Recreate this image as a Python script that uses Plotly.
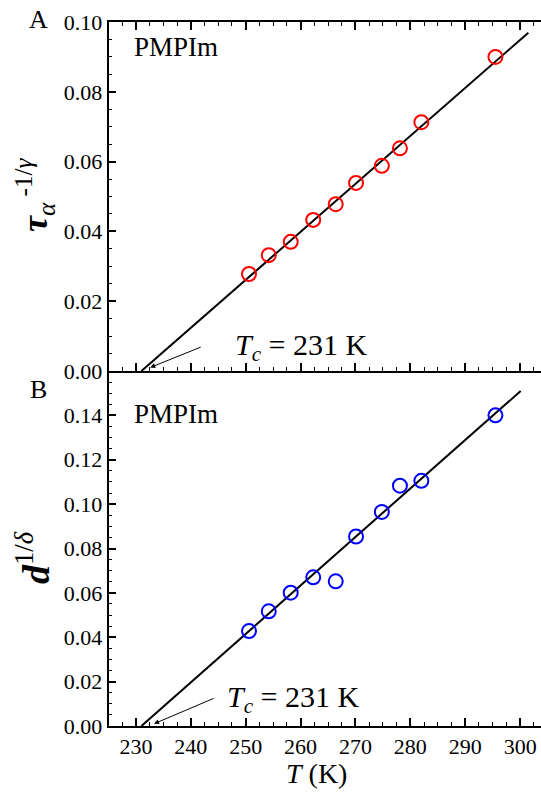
import plotly.graph_objects as go

# ---- data ----
T_A = [250.6, 254.2, 258.2, 262.3, 266.4, 270.1, 274.8, 278.1, 282.0, 295.5]
tau_A = [0.0278, 0.0332, 0.0370, 0.0433, 0.0478, 0.0539, 0.0588, 0.0638, 0.0713, 0.0900]

T_B = [250.6, 254.2, 258.2, 262.3, 266.4, 270.1, 274.8, 278.1, 282.0, 295.5]
d_B = [0.0428, 0.0517, 0.0601, 0.0670, 0.0652, 0.0854, 0.0965, 0.1083, 0.1105, 0.1400]

Tc = 231.0
slope_A = 0.001375
slope_B = 0.002185
T_end_A = 301.5
T_end_B = 300.1

x_ticks = [230, 240, 250, 260, 270, 280, 290, 300]
yA_ticks = [0.00, 0.02, 0.04, 0.06, 0.08, 0.10]
yB_ticks = [0.00, 0.02, 0.04, 0.06, 0.08, 0.10, 0.12, 0.14]

FONT = "Liberation Serif, Times New Roman, serif"
W, H = 541, 795

fig = go.Figure()

fig.add_trace(go.Scatter(x=[Tc, T_end_A], y=[0, slope_A * (T_end_A - Tc)], mode="lines",
                         line=dict(color="black", width=2), xaxis="x", yaxis="y", showlegend=False))
fig.add_trace(go.Scatter(x=T_A, y=tau_A, mode="markers",
                         marker=dict(symbol="circle-open", size=14, color="rgb(255,0,0)",
                                     line=dict(width=2, color="rgb(255,0,0)")),
                         xaxis="x", yaxis="y", showlegend=False))
fig.add_trace(go.Scatter(x=[Tc, T_end_B], y=[0, slope_B * (T_end_B - Tc)], mode="lines",
                         line=dict(color="black", width=2), xaxis="x2", yaxis="y2", showlegend=False))
fig.add_trace(go.Scatter(x=T_B, y=d_B, mode="markers",
                         marker=dict(symbol="circle-open", size=14, color="rgb(0,0,255)",
                                     line=dict(width=2, color="rgb(0,0,255)")),
                         xaxis="x2", yaxis="y2", showlegend=False))

def py(p):
    return (H - p) / H

xdom = [108.5 / W, 1.0]
xr = [225, 303.8]
tickfont = dict(family=FONT, size=22, color="black")

common_x = dict(range=xr, domain=xdom, showgrid=False, zeroline=False, showline=True,
                linecolor="black", linewidth=1.5, ticks="inside", ticklen=8, tickwidth=1.5,
                tickcolor="black", tickvals=x_ticks, automargin=False,
                minor=dict(dtick=2.5, tick0=225, ticks="inside", ticklen=4, tickwidth=1.2, tickcolor="black"),
                tickfont=tickfont)
common_y = dict(showgrid=False, zeroline=False, showline=True, linecolor="black", linewidth=1.5,
                ticks="inside", ticklen=8, tickwidth=1.5, tickcolor="black", automargin=False,
                tickformat=".2f", tickfont=tickfont, mirror=False,
                minor=dict(dtick=0.005, tick0=0, ticks="inside", ticklen=4, tickwidth=1.2, tickcolor="black"))

fig.update_layout(
    width=W, height=H, margin=dict(l=0, r=0, t=0, b=0, autoexpand=False),
    paper_bgcolor="white", plot_bgcolor="white",
    xaxis=dict(**common_x, anchor="y", showticklabels=False, mirror="ticks"),
    yaxis=dict(**common_y, range=[0, 0.10], domain=[py(371), py(22)], anchor="x", tickvals=yA_ticks),
    xaxis2=dict(**common_x, anchor="y2", showticklabels=True),
    yaxis2=dict(**common_y, range=[0, 0.16], domain=[py(726), py(371)], anchor="x2", tickvals=yB_ticks),
)

ann = []
def txt(x, y, text, size, angle=0, xanchor="center", yanchor="middle"):
    ann.append(dict(x=x / W, y=py(y), xref="paper", yref="paper", text=text, showarrow=False,
                    font=dict(family=FONT, size=size, color="black"), textangle=angle,
                    xanchor=xanchor, yanchor=yanchor))

txt(38, 20, "A", 26)
txt(38, 389, "B", 26)
txt(132, 47, "PMPIm", 27, xanchor="left")
txt(132, 414, "PMPIm", 27, xanchor="left")
txt(35, 195, "<b><i>τ</i></b><sub><i>α</i></sub><sup> -1/<i>γ</i></sup>", 36, angle=-90)
txt(33, 558, "<b><i>d</i></b><sup>1/<i>δ</i></sup>", 38, angle=-90)
txt(316, 773, "<i>T</i> (K)", 28)
txt(233, 347, "<i>T</i><sub><i>c</i></sub> = 231 K", 30, xanchor="left")
txt(225, 699, "<i>T</i><sub><i>c</i></sub> = 231 K", 30, xanchor="left")

# arrows
ann.append(dict(x=232.6, y=0.0010, xref="x", yref="y", ax=52, ay=-21, axref="pixel", ayref="pixel",
                text="", showarrow=True, arrowhead=2, arrowsize=1, arrowwidth=1, arrowcolor="black"))
ann.append(dict(x=233.3, y=0.0010, xref="x2", yref="y2", ax=61, ay=-26, axref="pixel", ayref="pixel",
                text="", showarrow=True, arrowhead=2, arrowsize=1, arrowwidth=1, arrowcolor="black"))

fig.update_layout(annotations=ann)
fig.write_html("out.html")
